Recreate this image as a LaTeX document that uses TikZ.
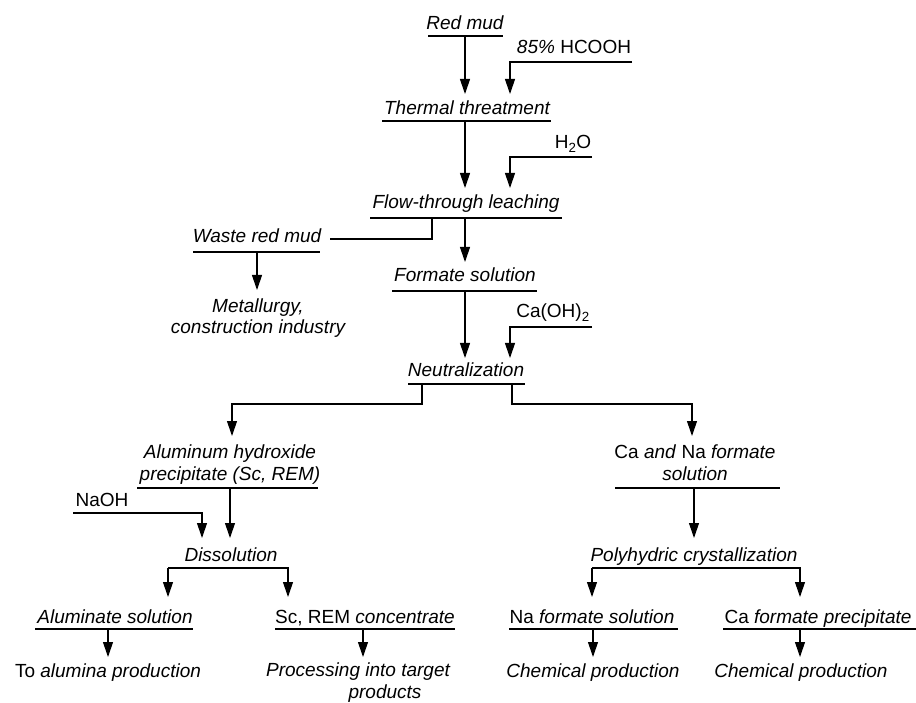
\documentclass[tikz,border=0pt]{standalone}
\usepackage{fontspec}
\setmainfont{Liberation Sans}
\usetikzlibrary{arrows.meta}
\begin{document}
\begin{tikzpicture}[x=1pt,y=-1pt,
  lbl/.style={inner sep=0pt, anchor=base, font=\fontsize{19}{21.5}\selectfont\itshape, align=center},
  ln/.style={line width=1.1pt},
  arr/.style={line width=1.1pt, -{Triangle[length=15pt,width=10pt]}}]
\useasboundingbox (0,0) rectangle (916,703);

% ---------- nodes ----------
\node[lbl] (rm)   at (465,30)  {Red mud};
\node[lbl] (hc)   at (574,54)  {85\% \textup{HCOOH}};
\node[lbl] (tt)   at (467,115) {Thermal threatment};
\node[lbl] (hw)   at (573,149) {\textup{H\textsubscript{2}O}};
\node[lbl] (ft)   at (466,209) {Flow-through leaching};
\node[lbl] (wr)   at (257,243) {Waste red mud};
\node[lbl] (met)  at (258,334) {Metallurgy,\\construction industry};
\node[lbl] (fs)   at (465,282) {Formate solution};
\node[lbl] (co)   at (553,318) {\textup{Ca(OH)\textsubscript{2}}};
\node[lbl] (ne)   at (466,377) {Neutralization};
\node[lbl] (al)   at (230,480) {Aluminum hydroxide\\precipitate (Sc, REM)};
\node[lbl] (cana) at (695,480) {\textup{Ca} and \textup{Na} formate\\solution};
\node[lbl] (na)   at (102,506) {\textup{NaOH}};
\node[lbl] (dis)  at (231,561) {Dissolution};
\node[lbl] (pc)   at (694,561) {Polyhydric crystallization};
\node[lbl] (als)  at (115,623) {Aluminate solution};
\node[lbl] (sc)   at (365,623) {\textup{Sc, REM} concentrate};
\node[lbl] (nfs)  at (592,623) {\textup{Na} formate solution};
\node[lbl] (cfp)  at (818,623) {\textup{Ca} formate precipitate};
\node[lbl] (tap)  at (108,677) {\textup{To} alumina production};
\node[lbl] (pr)   at (358,698) {Processing into target\\\hspace*{54pt}products};
\node[lbl] (cp1)  at (593,677) {Chemical production};
\node[lbl] (cp2)  at (801,677) {Chemical production};

% ---------- underlines ----------
\draw[ln] (428,36) -- (503,36);
\draw[ln] (382,121) -- (551,121);
\draw[ln] (370,218) -- (562,218);
\draw[ln] (193,252) -- (320,252);
\draw[ln] (392,291) -- (537,291);
\draw[ln] (408,384) -- (525,384);
\draw[ln] (137,488) -- (318,488);
\draw[ln] (615,488) -- (780,488);
\draw[ln] (35,629) -- (193,629);
\draw[ln] (275,629) -- (455,629);
\draw[ln] (509,629) -- (678,629);
\draw[ln] (723,629) -- (916,629);

% ---------- connector points ----------
\coordinate (rmS) at (465,36);   \coordinate (ttA) at (465,94);
\coordinate (hcS) at (632,62);   \coordinate (hcK) at (510,62);  \coordinate (ttB) at (510,94);
\coordinate (ttS) at (465,121);  \coordinate (ftA) at (465,188);
\coordinate (hwS) at (592,157);  \coordinate (hwK) at (510,157); \coordinate (ftB) at (510,188);
\coordinate (ftW) at (432,218);  \coordinate (ftWK) at (432,239); \coordinate (wrE) at (330,239);
\coordinate (ftS) at (465,218);  \coordinate (fsA) at (465,262);
\coordinate (wrS) at (257,252);  \coordinate (metA) at (257,290);
\coordinate (fsS) at (465,291);  \coordinate (neA) at (465,358);
\coordinate (coS) at (592,327);  \coordinate (coK) at (510,327); \coordinate (neB) at (510,358);
\coordinate (neL) at (422,384);  \coordinate (neLK) at (422,404); \coordinate (alK) at (232,404); \coordinate (alA) at (232,436);
\coordinate (neR) at (512,384);  \coordinate (neRK) at (512,404); \coordinate (caK) at (692,404); \coordinate (caA) at (692,436);
\coordinate (alS) at (230,488);  \coordinate (disA) at (230,538);
\coordinate (naS) at (73,513);   \coordinate (naK) at (202,513);  \coordinate (disB) at (202,538);
\coordinate (disL) at (168,568); \coordinate (disR) at (288,568); \coordinate (alsA) at (168,597); \coordinate (scA) at (288,597);
\coordinate (alsS) at (108,629); \coordinate (tapA) at (108,657);
\coordinate (scS) at (363,629);  \coordinate (prA) at (363,657);
\coordinate (caS) at (694,488);  \coordinate (pcA) at (694,538);
\coordinate (pcL) at (592,568);  \coordinate (pcR) at (800,568); \coordinate (nfsA) at (592,597); \coordinate (cfpA) at (800,597);
\coordinate (nfsS) at (593,629); \coordinate (cp1A) at (593,657);
\coordinate (cfpS) at (800,629); \coordinate (cp2A) at (800,657);

% ---------- connectors ----------
\draw[arr] (rmS) -- (ttA);
\draw[arr] (hcS) -- (hcK) -- (ttB);
\draw[arr] (ttS) -- (ftA);
\draw[arr] (hwS) -- (hwK) -- (ftB);
\draw[ln]  (ftW) -- (ftWK) -- (wrE);
\draw[arr] (ftS) -- (fsA);
\draw[arr] (wrS) -- (metA);
\draw[arr] (fsS) -- (neA);
\draw[arr] (coS) -- (coK) -- (neB);
\draw[arr] (neL) -- (neLK) -- (alK) -- (alA);
\draw[arr] (neR) -- (neRK) -- (caK) -- (caA);
\draw[arr] (alS) -- (disA);
\draw[arr] (naS) -- (naK) -- (disB);
\draw[arr] (disL) -- (alsA);
\draw[arr] (disL) -- (disR) -- (scA);
\draw[arr] (alsS) -- (tapA);
\draw[arr] (scS) -- (prA);
\draw[arr] (caS) -- (pcA);
\draw[arr] (pcL) -- (nfsA);
\draw[arr] (pcL) -- (pcR) -- (cfpA);
\draw[arr] (nfsS) -- (cp1A);
\draw[arr] (cfpS) -- (cp2A);
\end{tikzpicture}
\end{document}
